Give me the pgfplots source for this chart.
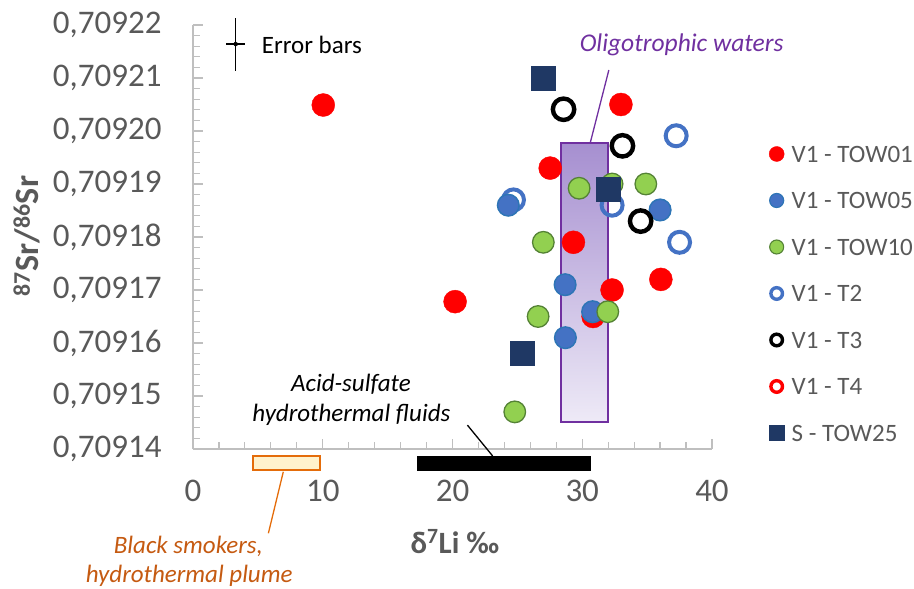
\documentclass[border=0pt]{standalone}
\usepackage{fontspec}
\setmainfont{Carlito}
\usepackage{pgfplots}
\pgfplotsset{compat=1.18}
\definecolor{tickgray}{HTML}{595959}
\definecolor{axgray}{HTML}{BFBFBF}
\definecolor{cred}{HTML}{FF0000}
\definecolor{cblue}{HTML}{4472C4}
\definecolor{cblueb}{HTML}{2E75B6}
\definecolor{cgreen}{HTML}{92D050}
\definecolor{cgreenb}{HTML}{548235}
\definecolor{cnavy}{HTML}{1F3864}
\definecolor{cpurple}{HTML}{7030A0}
\definecolor{ptop}{HTML}{A68FD0}
\definecolor{pbot}{HTML}{EEEAF7}
\definecolor{corange}{HTML}{C55A11}
\definecolor{oborder}{HTML}{E46C0A}
\definecolor{ofill}{HTML}{FFF2CC}
\begin{document}
\begin{tikzpicture}
\path[use as bounding box] (-193pt,-140pt) rectangle (721pt,449pt);
\begin{axis}[
  at={(0,0)}, anchor=south west,
  scale only axis, width=519pt, height=424pt,
  xmin=0, xmax=40, ymin=0.70914, ymax=0.70922,
  axis x line*=bottom, axis y line*=left,
  axis line style={axgray, line width=1.5pt},
  xtick={0,10,20,30,40}, minor x tick num=4,
  ytick={0.70914,0.70915,0.70916,0.70917,0.70918,0.70919,0.70920,0.70921,0.70922},
  minor y tick num=4,
  tick align=inside,
  major tick length=10pt, minor tick length=7pt,
  every tick/.style={axgray, line width=1.2pt},
  every minor tick/.style={axgray, line width=1.2pt},
  scaled y ticks=false,
  /pgf/number format/assume math mode=true,
  ticklabel style={font=\fontsize{33}{40}\selectfont, text=tickgray},
  xticklabel style={yshift=-28pt},
  yticklabel style={xshift=-28pt, /pgf/number format/fixed, /pgf/number format/fixed zerofill,
    /pgf/number format/precision=5, /pgf/number format/use comma},
  clip=false,
  every axis x label/.style={at={(axis description cs:0.5048,-0.2453)}, anchor=base},
  every axis y label/.style={at={(axis description cs:-0.3198,0.5024)}, anchor=center, rotate=90},
  xlabel={\fontsize{31}{36}\selectfont\bfseries δ\textsuperscript{7}Li ‰},
  ylabel={\fontsize{34}{40}\selectfont\bfseries \textsuperscript{87}Sr/\textsuperscript{86}Sr},
  label style={text=tickgray},
  legend image code/.code={\draw[#1] plot coordinates {(0pt,0pt)};},
  legend cell align=left,
  legend style={draw=none, fill=none, at={(axis description cs:1.1102,0.7182)}, anchor=north west,
    inner sep=0pt, outer sep=0pt, font=\fontsize{25}{30}\selectfont, text=tickgray,
    row sep=27.5pt, nodes={inner sep=1pt, text height=17pt, text depth=0pt},
    /tikz/every odd column/.append style={column sep=6.5pt}},
]
% Oligotrophic waters box
\draw[cpurple, line width=2pt, top color=ptop, bottom color=pbot] (axis cs:28.4,0.709145) rectangle (axis cs:32.0,0.7091977);
\draw[cpurple, line width=1.3pt] (axis cs:30.61,0.7091977) -- (axis cs:32.05,0.7092115);
% acid-sulfate bar
\fill[black] (axis cs:17.25,0.7091387) rectangle (axis cs:30.7,0.7091358);
\draw[black, line width=1.3pt] (axis cs:21.15,0.7091445) -- (axis cs:23.09,0.7091387);
% black smokers box
\draw[oborder, fill=ofill, line width=1.5pt] (axis cs:4.63,0.7091387) rectangle (axis cs:9.8,0.709136);
\draw[oborder, line width=1.3pt] (axis cs:6.96,0.7091357) -- (axis cs:5.81,0.7091241);

% error bar symbol
\addplot[forget plot, only marks, mark=none,
  error bars/.cd, x dir=both, x explicit, y dir=both, y explicit,
  error mark=none, error bar style={black, line width=1.6pt}]
  coordinates {(3.29,0.7092164) +- (0.74,0.0000050)};

% V1 - T2 (open blue)
\addplot[forget plot, only marks, mark=o, mark size=10.5pt, mark options={draw=cblue, line width=4pt}]
  coordinates {(37.24,0.7091991) (24.70,0.7091870) (32.30,0.7091860) (37.50,0.7091790)};
% V1 - TOW01
\addplot[forget plot, only marks, mark=*, mark size=11.5pt, mark options={draw=cred, fill=cred, line width=0.4pt}]
  coordinates {(10.04,0.7092049) (32.98,0.7092050) (27.53,0.7091930) (29.32,0.7091790)
  (32.30,0.7091700) (36.06,0.7091720) (20.20,0.7091678) (30.84,0.7091650)};
% V1 - TOW05
\addplot[forget plot, only marks, mark=*, mark size=10.8pt, mark options={draw=cblueb, fill=cblue, line width=1.5pt}]
  coordinates {(24.30,0.7091860) (36.00,0.7091851) (28.68,0.7091710) (30.80,0.7091659) (28.70,0.7091610)};
% V1 - TOW10
\addplot[forget plot, only marks, mark=*, mark size=10.8pt, mark options={draw=cgreenb, fill=cgreen, line width=1.3pt}]
  coordinates {(29.76,0.7091892) (32.30,0.7091900) (34.90,0.7091900) (27.00,0.7091790)
  (26.60,0.7091650) (31.97,0.7091659) (24.80,0.7091470)};
% V1 - T3 (open black)
\addplot[forget plot, only marks, mark=o, mark size=10.7pt, mark options={draw=black, line width=4.4pt}]
  coordinates {(28.56,0.7092041) (33.10,0.7091972) (34.50,0.7091830)};
% S - TOW25
\addplot[forget plot, only marks, mark=square*, mark size=12pt, mark options={draw=cnavy, fill=cnavy, line width=0.4pt}]
  coordinates {(27.00,0.7092100) (32.00,0.7091890) (25.40,0.7091580)};

% legend
\addlegendimage{only marks, mark=*, mark size=7.5pt, mark options={draw=cred, fill=cred, line width=0.4pt}}
\addlegendentry{V1 - TOW01}
\addlegendimage{only marks, mark=*, mark size=7pt, mark options={draw=cblueb, fill=cblue, line width=1.2pt}}
\addlegendentry{V1 - TOW05}
\addlegendimage{only marks, mark=*, mark size=7pt, mark options={draw=cgreenb, fill=cgreen, line width=1.1pt}}
\addlegendentry{V1 - TOW10}
\addlegendimage{only marks, mark=o, mark size=5.8pt, mark options={draw=cblue, line width=3.4pt}}
\addlegendentry{V1 - T2}
\addlegendimage{only marks, mark=o, mark size=5.8pt, mark options={draw=black, line width=3.4pt}}
\addlegendentry{V1 - T3}
\addlegendimage{only marks, mark=o, mark size=5.8pt, mark options={draw=cred, line width=3.4pt}}
\addlegendentry{V1 - T4}
\addlegendimage{only marks, mark=square*, mark size=7.5pt, mark options={draw=cnavy, fill=cnavy, line width=0.4pt}}
\addlegendentry{S - TOW25}

% annotations
\node[anchor=base west, inner sep=0pt, font=\fontsize{25}{30}\selectfont] at (axis description cs:0.1324,0.9333) {Error bars};
\node[anchor=base, inner sep=0pt, text=cpurple, font=\fontsize{25.5}{30}\selectfont\itshape] at (axis description cs:0.9416,0.9370) {Oligotrophic waters};
\node[anchor=base, inner sep=0pt, font=\fontsize{25}{30}\selectfont\itshape] at (axis description cs:0.3044,0.1351) {Acid-sulfate};
\node[anchor=base, inner sep=0pt, font=\fontsize{25}{30}\selectfont\itshape] at (axis description cs:0.3052,0.0644) {hydrothermal fluids};
\node[anchor=base, inner sep=0pt, text=corange, font=\fontsize{25}{30}\selectfont\itshape] at (axis description cs:-0.0090,-0.2453) {Black smokers,};
\node[anchor=base, inner sep=0pt, text=corange, font=\fontsize{25}{30}\selectfont\itshape] at (axis description cs:-0.0073,-0.3137) {hydrothermal plume};
\end{axis}
\end{tikzpicture}
\end{document}
